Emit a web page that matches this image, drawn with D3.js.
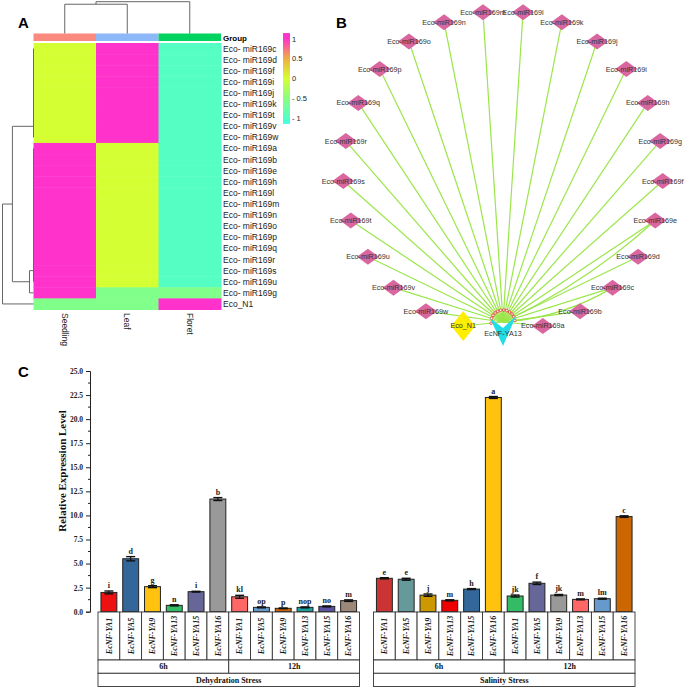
<!DOCTYPE html>
<html><head><meta charset="utf-8">
<script src="https://cdn.jsdelivr.net/npm/d3@7"></script>
<style>body{margin:0;background:#fff}svg{display:block}</style>
</head><body>
<script>
// ---------- Panel A data ----------
const heatCols = ["Seedling","Leaf","Floret"];
const groupColors = ["#fa8a7e","#8cb8fa","#00d45e"];
const heatRows = ["Eco- miR169c","Eco- miR169d","Eco- miR169f","Eco- miR169i","Eco- miR169j","Eco- miR169k","Eco- miR169t","Eco- miR169v","Eco- miR169w",
 "Eco- miR169a","Eco- miR169b","Eco- miR169e","Eco- miR169h","Eco- miR169l","Eco- miR169m","Eco- miR169n","Eco- miR169o","Eco- miR169p","Eco- miR169q","Eco- miR169r","Eco- miR169s","Eco- miR169u",
 "Eco- miR169g","Eco_N1"];
const heatValues = [
 [0,1,-1],[0,1,-1],[0,1,-1],[0,1,-1],[0,1,-1],[0,1,-1],[0,1,-1],[0,1,-1],[0,1,-1],
 [1,0,-1],[1,0,-1],[1,0,-1],[1,0,-1],[1,0,-1],[1,0,-1],[1,0,-1],[1,0,-1],[1,0,-1],[1,0,-1],[1,0,-1],[1,0,-1],[1,0,-1],
 [1.15,-0.58,-0.58],[-0.58,-0.58,1.15]];
const legendTicks = [1,0.5,0,-0.5,-1];
const legendLabels = ["1","0.5","0","- 0.5","- 1"];
const colorStops = [-1.15,-1,-0.5,0,0.5,1,1.15];
const colorRange = ["#44ffe4","#55ffc4","#88ff80","#d4ff33","#f0b040","#ff33cc","#ff33cc"];

// ---------- Panel B data ----------
const netNodes = ["EcNF-YA13","Eco_N1","Eco-miR169w","Eco-miR169v","Eco-miR169u","Eco-miR169t","Eco-miR169s","Eco-miR169r","Eco-miR169q","Eco-miR169p","Eco-miR169o","Eco-miR169n","Eco-miR169m","Eco-miR169l","Eco-miR169k","Eco-miR169j","Eco-miR169i","Eco-miR169h","Eco-miR169g","Eco-miR169f","Eco-miR169e","Eco-miR169d","Eco-miR169c","Eco-miR169b","Eco-miR169a"];
const curvedEdges = ["Eco-miR169e","Eco-miR169c"];

// ---------- Panel C data ----------
const genes = ["EcNF-YA1","EcNF-YA5","EcNF-YA9","EcNF-YA13","EcNF-YA15","EcNF-YA16"];
const timepoints = ["6h","12h"];
const stresses = ["Dehydration Stress","Salinity Stress"];
const dehy6 = [2.0,5.5,2.6,0.66,2.08,11.7];
const dehy12 = [1.55,0.45,0.35,0.45,0.55,1.15];
const sal6 = [3.47,3.37,1.72,1.18,2.35,22.25];
const sal12 = [1.63,2.95,1.73,1.28,1.35,9.88];
const dehy6Err = [0.15,0.22,0.1,0.06,0.04,0.15];
const dehy12Err = [0.15,0.05,0.04,0.05,0.05,0.08];
const sal6Err = [0.06,0.1,0.12,0.06,0.05,0.1];
const sal12Err = [0.1,0.12,0.06,0.05,0.05,0.08];
const dehy6Let = ["i","d","g","n","i","b"];
const dehy12Let = ["kl","op","p","nop","no","m"];
const sal6Let = ["e","e","j","m","h","a"];
const sal12Let = ["jk","f","jk","m","lm","c"];
const dehy6Col = ["#ee1111","#336699","#ffc20e","#33bb66","#666699","#999999"];
const dehy12Col = ["#ff6666","#6699cc","#cc6600","#1a9e9e","#5b52a3","#9c8878"];
const sal6Col = ["#cc3333","#669999","#cc9900","#ee0000","#336699","#ffc20e"];
const sal12Col = ["#33bb66","#666699","#999999","#ff6666","#6699cc","#cc6600"];
const yTicks = [0,2.5,5,7.5,10,12.5,15,17.5,20,22.5,25];

const W = 685, H = 689;
const svg = d3.select("body").append("svg").attr("width", W).attr("height", H)
  .style("font-family","Arial, 'Liberation Sans', sans-serif");

// panel labels
[["A",18,28],["B",336,28],["C",18,377]].forEach(([t,x,y]) =>
  svg.append("text").attr("x",x).attr("y",y).text(t).attr("font-size",15).attr("font-weight","bold"));

// ================= Panel A =================
const color = d3.scaleLinear().domain(colorStops).range(colorRange).clamp(true);
const hx = d3.scaleBand().domain(heatCols).range([33.5, 221]);
const hy = d3.scaleBand().domain(heatRows).range([43, 309.5]);
const gA = svg.append("g");
gA.selectAll("rect.grp").data(heatCols).join("rect")
  .attr("x", d => hx(d)).attr("y", 33.5).attr("width", hx.bandwidth()).attr("height", 7.5)
  .attr("fill", (d,i) => groupColors[i]);
gA.append("text").attr("x",223).attr("y",40.5).text("Group").attr("font-size",8).attr("font-weight","bold");
heatRows.forEach((r,i) => {
  heatCols.forEach((c,j) => {
    gA.append("rect").attr("x", hx(c)).attr("y", hy(r)).attr("width", hx.bandwidth()+0.5)
      .attr("height", hy.bandwidth()+0.5).attr("fill", color(heatValues[i][j]));
  });
  gA.append("text").attr("x",223).attr("y", hy(r)+hy.bandwidth()/2).attr("dy","0.35em")
    .text(r).attr("font-size",8.5).attr("fill","#222");
});
heatCols.forEach(c => {
  const x = hx(c)+hx.bandwidth()/2;
  gA.append("text").attr("x",x).attr("y",313).attr("transform",`rotate(90,${x},313)`)
    .attr("dy","0.35em").text(c).attr("font-size",8.5).attr("fill","#222");
});
// legend
const defs = svg.append("defs");
const lg = defs.append("linearGradient").attr("id","lg").attr("x1",0).attr("x2",0).attr("y1",0).attr("y2",1);
const ly = d3.scaleLinear().domain([1,-1]).range([39,118]);
d3.range(0,21).forEach(k => {
  const v = 1.15 - k*2.3/20;
  lg.append("stop").attr("offset", k/20).attr("stop-color", color(v));
});
gA.append("rect").attr("x",283).attr("y",ly(1.15)).attr("width",7).attr("height",ly(-1.15)-ly(1.15)).attr("fill","url(#lg)");
legendTicks.forEach((t,i) => {
  gA.append("text").attr("x",292).attr("y",ly(t)).attr("dy","0.35em").text(legendLabels[i]).attr("font-size",7.5).attr("fill","#222");
});
// dendrograms
function chain(a,b){ let n = a; for(let k=a+1;k<=b;k++) n = {h:0, c:[n,k]}; return n; }
const rowTree = {h:1, c:[{h:0.68, c:[chain(0,8), {h:0.13, c:[chain(9,21), 22]}]}, 23]};
const colTree = {h:1, c:[{h:0.92, c:[0,1]}, 2]};
const rdx = d3.scaleLinear().domain([0,1]).range([33.5, 2.5]);
const cdy = d3.scaleLinear().domain([0,1]).range([33.5, 1.7]);
const rowPos = i => hy(heatRows[i]) + hy.bandwidth()/2;
const colPos = i => hx(heatCols[i]) + hx.bandwidth()/2;
function drawTree(node, posFn, horiz){
  if (typeof node === "number") return {p: posFn(node), h: 0};
  const a = drawTree(node.c[0], posFn, horiz), b = drawTree(node.c[1], posFn, horiz);
  const line = (x1,y1,x2,y2) => gA.append("line").attr("x1",x1).attr("y1",y1).attr("x2",x2).attr("y2",y2)
    .attr("stroke","#666").attr("stroke-width",1);
  if (horiz) {
    const x = rdx(node.h);
    line(x, a.p, x, b.p); line(x, a.p, rdx(a.h), a.p); line(x, b.p, rdx(b.h), b.p);
  } else {
    const y = cdy(node.h);
    line(a.p, y, b.p, y); line(a.p, y, a.p, cdy(a.h)); line(b.p, y, b.p, cdy(b.h));
  }
  return {p: (a.p+b.p)/2, h: node.h};
}
drawTree(rowTree, rowPos, true);
drawTree(colTree, colPos, false);

// ================= Panel B =================
const gB = svg.append("g");
const ang = d3.scaleLinear().domain([0, netNodes.length]).range([Math.PI/2, Math.PI/2 + 2*Math.PI]);
const cx = 503, cy = 171, R = 160;
const pos = netNodes.map((n,i) => ({name:n, x: cx + R*Math.cos(ang(i)), y: cy + R*Math.sin(ang(i))}));
const hub = pos[0];
const tgt = {x: hub.x, y: hub.y - 9};
pos.slice(1).forEach(p => {
  gB.append("line").attr("x1",p.x).attr("y1",p.y).attr("x2",tgt.x).attr("y2",tgt.y)
    .attr("stroke","#9be64a").attr("stroke-width",1.2);
});
pos.filter(p => curvedEdges.includes(p.name)).forEach(p => {
  const mx = (p.x+tgt.x)/2, my = (p.y+tgt.y)/2;
  const dx = tgt.x-p.x, dy = tgt.y-p.y, L = Math.hypot(dx,dy);
  const qx = mx + (dy/L)*14, qy = my - (dx/L)*14;
  gB.append("path").attr("d",`M${p.x},${p.y}Q${qx},${qy} ${tgt.x},${tgt.y}`).attr("fill","none")
    .attr("stroke","#9be64a").attr("stroke-width",1.2);
});
// small red arrow markers near target (only on edges ending on the V arms)
pos.slice(1).forEach((p,i) => {
  if (i % 2) return;
  const dx = p.x-tgt.x, dy = p.y-tgt.y, L = Math.hypot(dx,dy);
  gB.append("circle").attr("cx", tgt.x + dx/L*12).attr("cy", tgt.y + dy/L*12).attr("r",1.3)
    .attr("fill","#fff").attr("stroke","#e83030").attr("stroke-width",0.8);
});
pos.slice(2).forEach(p => {
  gB.append("path").attr("d",`M${p.x-11},${p.y}L${p.x},${p.y-8}L${p.x+11},${p.y}L${p.x},${p.y+8}Z`)
    .attr("fill","#d9669e");
});
const n1 = pos[1];
gB.append("path").attr("d",`M${n1.x-12},${n1.y}L${n1.x},${n1.y-15}L${n1.x+12},${n1.y}L${n1.x},${n1.y+15}Z`).attr("fill","#ffee00");
gB.append("path").attr("d",`M${hub.x-13},${hub.y-13}L${hub.x},${hub.y-3}L${hub.x+13},${hub.y-15}L${hub.x},${hub.y+15}Z`).attr("fill","#22dde6");
pos.forEach(p => {
  gB.append("text").attr("x",p.x).attr("y", p.name==="EcNF-YA13" ? p.y+2 : p.y).attr("dy","0.35em")
    .attr("text-anchor","middle").text(p.name).attr("font-size",7.2).attr("fill","#333");
});

// ================= Panel C =================
const gC = svg.append("g").style("font-family","'Liberation Serif', 'Times New Roman', serif").attr("font-weight","bold");
const y = d3.scaleLinear().domain([0,25]).range([611.7, 371]);
const xs = d3.scaleBand().domain(stresses).range([98, 635]).paddingInner(0.0508);
const keys = [];
timepoints.forEach(t => genes.forEach(g => keys.push(t+"|"+g)));
const xi = d3.scaleBand().domain(keys).range([0, xs.bandwidth()]);
const series = {
  "Dehydration Stress": {"6h":[dehy6,dehy6Err,dehy6Let,dehy6Col], "12h":[dehy12,dehy12Err,dehy12Let,dehy12Col]},
  "Salinity Stress": {"6h":[sal6,sal6Err,sal6Let,sal6Col], "12h":[sal12,sal12Err,sal12Let,sal12Col]}
};
const yAxis = d3.axisLeft(y).tickValues(yTicks).tickFormat(d3.format(".1f")).tickSize(4).tickPadding(3);
const ag = gC.append("g").attr("transform","translate(90,0)").call(yAxis);
ag.select(".domain").attr("stroke","#222");
ag.selectAll(".tick line").attr("stroke","#222");
ag.selectAll("text").attr("font-size",7.5).attr("font-weight","bold").attr("font-family","'Liberation Serif', serif").attr("fill","#222");
const minor = d3.range(1.25, 25, 2.5);
gC.selectAll("line.minor").data(minor).join("line").attr("x1",88).attr("x2",90)
  .attr("y1",d=>y(d)).attr("y2",d=>y(d)).attr("stroke","#222");
gC.append("text").attr("transform","translate(62,471) rotate(-90)").attr("text-anchor","middle")
  .attr("dy","0.35em").text("Relative Expression Level").attr("font-size",11).attr("fill","#111");

const T0 = 612, T1 = 660, T2 = 673.3, T3 = 686.5;
stresses.forEach(s => {
  const x0 = xs(s);
  timepoints.forEach((t,ti) => {
    const [vals, errs, lets, cols] = series[s][t];
    genes.forEach((g,gi) => {
      const k = t+"|"+g;
      const cxl = x0 + xi(k), bw = xi.bandwidth();
      const bwid = bw*0.73, bx = cxl + (bw-bwid)/2, mid = cxl + bw/2;
      gC.append("rect").attr("x",bx).attr("y",y(vals[gi])).attr("width",bwid).attr("height",y(0)-y(vals[gi]))
        .attr("fill",cols[gi]).attr("stroke","#222").attr("stroke-width",1);
      const e1 = y(vals[gi]+errs[gi]), e2 = y(vals[gi]-errs[gi]);
      gC.append("line").attr("x1",mid).attr("x2",mid).attr("y1",e1).attr("y2",e2).attr("stroke","#111").attr("stroke-width",1.2);
      [e1,e2].forEach(ee => gC.append("line").attr("x1",mid-4.5).attr("x2",mid+4.5).attr("y1",ee).attr("y2",ee).attr("stroke","#111").attr("stroke-width",1.4));
      gC.append("text").attr("x",mid).attr("y",e1-3).attr("text-anchor","middle").text(lets[gi])
        .attr("font-size",8).attr("fill","#222");
      gC.append("rect").attr("x",cxl).attr("y",T0).attr("width",bw).attr("height",T1-T0)
        .attr("fill","#fff").attr("stroke","#333").attr("stroke-width",0.9);
      gC.append("text").attr("transform",`translate(${mid},${(T0+T1)/2}) rotate(-90)`).attr("text-anchor","middle")
        .attr("dy","0.35em").attr("font-style","italic").text(g).attr("font-size",8).attr("fill","#111");
    });
    const tx = x0 + xi(t+"|"+genes[0]), tw = xi.bandwidth()*genes.length;
    gC.append("rect").attr("x",tx).attr("y",T1).attr("width",tw).attr("height",T2-T1)
      .attr("fill","#fff").attr("stroke","#333").attr("stroke-width",0.9);
    gC.append("text").attr("x",tx+tw/2).attr("y",(T1+T2)/2).attr("dy","0.35em").attr("text-anchor","middle")
      .text(t).attr("font-size",8).attr("fill","#111");
  });
  gC.append("rect").attr("x",x0).attr("y",T2).attr("width",xs.bandwidth()).attr("height",T3-T2)
    .attr("fill","#fff").attr("stroke","#333").attr("stroke-width",0.9);
  gC.append("text").attr("x",x0+xs.bandwidth()/2).attr("y",(T2+T3)/2).attr("dy","0.35em").attr("text-anchor","middle")
    .text(s).attr("font-size",8).attr("fill","#111");
});
</script>
</body></html>
